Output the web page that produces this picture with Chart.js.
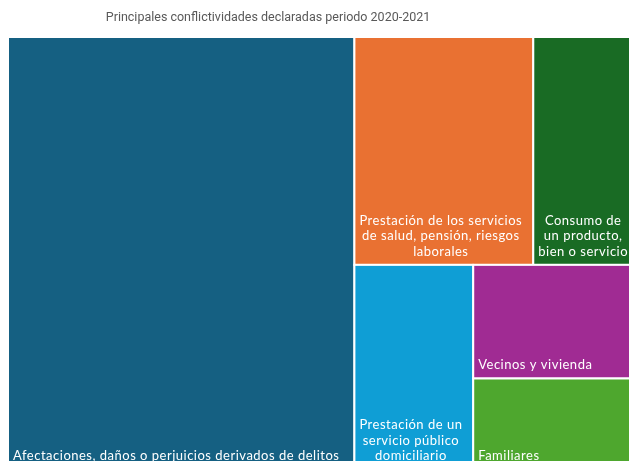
<!DOCTYPE html>
<html>
<head>
<meta charset="utf-8">
<script src="https://cdn.jsdelivr.net/npm/chart.js@4.4.0/dist/chart.umd.min.js"></script>
<style>
  html, body { margin: 0; padding: 0; background: #fff; overflow: hidden; }
  #wrap { position: relative; width: 630px; height: 469px; }
</style>
</head>
<body>
<div id="wrap"><canvas id="treeChart"></canvas></div>
<script>
const chartTitle = 'Principales conflictividades declaradas periodo 2020-2021';

// one entry per cell, each label already split into its lines
const categories = [
  ['Afectaciones, daños o perjuicios derivados de delitos'],
  ['Prestación de los servicios', 'de salud, pensión, riesgos', 'laborales'],
  ['Consumo de', 'un producto,', 'bien o servicio'],
  ['Prestación de un', 'servicio público', 'domiciliario'],
  ['Vecinos y vivienda'],
  ['Familiares']
];
const values = [1487, 405, 219, 241, 177, 141];
const colors = ['#156082', '#E97132', '#196B24', '#0F9ED5', '#A02B93', '#4EA72E'];

function sumOf(idx) {
  return idx.reduce((s, i) => s + values[i], 0);
}

// ordered binary split: cut the list where both halves are closest,
// cut the box across its longer side (measured in pixels)
function splitLayout(idx, box, sx, sy, out) {
  if (idx.length === 1) { out[idx[0]] = box; return; }
  const total = sumOf(idx);
  let best = 1, bestDiff = Infinity, acc = 0;
  for (let k = 1; k < idx.length; k++) {
    acc += values[idx[k - 1]];
    const diff = Math.abs(total - 2 * acc);
    if (diff < bestDiff) { bestDiff = diff; best = k; }
  }
  const a = idx.slice(0, best), b = idx.slice(best);
  const f = sumOf(a) / total;
  const pw = Math.abs(sx.getPixelForValue(box.x1) - sx.getPixelForValue(box.x0));
  const ph = Math.abs(sy.getPixelForValue(box.y1) - sy.getPixelForValue(box.y0));
  if (pw >= ph) {
    const xm = box.x0 + (box.x1 - box.x0) * f;
    splitLayout(a, { x0: box.x0, y0: box.y0, x1: xm, y1: box.y1 }, sx, sy, out);
    splitLayout(b, { x0: xm, y0: box.y0, x1: box.x1, y1: box.y1 }, sx, sy, out);
  } else {
    const ym = box.y0 + (box.y1 - box.y0) * f;
    splitLayout(a, { x0: box.x0, y0: box.y0, x1: box.x1, y1: ym }, sx, sy, out);
    splitLayout(b, { x0: box.x0, y0: ym, x1: box.x1, y1: box.y1 }, sx, sy, out);
  }
}

const treemapPlugin = {
  id: 'treemapCells',
  beforeDatasetsDraw(chart) {
    const ctx = chart.ctx;
    const sx = chart.scales.x, sy = chart.scales.y;
    const cells = [];
    splitLayout(values.map((v, i) => i), { x0: 0, y0: 0, x1: 1, y1: 1 }, sx, sy, cells);

    ctx.save();
    cells.forEach((c, i) => {
      const left = sx.getPixelForValue(c.x0), right = sx.getPixelForValue(c.x1);
      const top = sy.getPixelForValue(c.y0), bottom = sy.getPixelForValue(c.y1);
      ctx.fillStyle = colors[i];
      ctx.fillRect(left, top, right - left, bottom - top);
      ctx.strokeStyle = '#ffffff';
      ctx.lineWidth = 2;
      ctx.strokeRect(left, top, right - left, bottom - top);

      // label block sits bottom-left, lines centred inside the block
      const lines = categories[i];
      ctx.font = '13px Lato';
      ctx.letterSpacing = '0.5px';
      ctx.fillStyle = '#ffffff';
      ctx.textAlign = 'center';
      ctx.textBaseline = 'alphabetic';
      const blockW = Math.max(...lines.map(l => ctx.measureText(l).width));
      const cx = left + 5 + blockW / 2;
      const lineH = 15.5;
      lines.forEach((l, k) => {
        const y = bottom - 9 - (lines.length - 1 - k) * lineH;
        ctx.fillText(l, cx, y);
      });
    });

    // chart heading
    ctx.letterSpacing = '0px';
    ctx.font = '12.5px Roboto';
    ctx.fillStyle = '#595959';
    ctx.textAlign = 'center';
    ctx.textBaseline = 'middle';
    ctx.fillText(chartTitle, 268, 18);
    ctx.restore();
  }
};

new Chart(document.getElementById('treeChart'), {
  type: 'scatter',
  data: { datasets: [{ data: [], pointRadius: 0 }] },
  options: {
    responsive: true,
    maintainAspectRatio: false,
    animation: false,
    layout: { padding: { left: 8, top: 37, right: 0, bottom: 0 } },
    scales: {
      x: { display: false, min: 0, max: 1 },
      y: { display: false, min: 0, max: 1, reverse: true }
    },
    plugins: {
      legend: { display: false },
      tooltip: { enabled: false },
      title: { display: false }
    }
  },
  plugins: [treemapPlugin]
});
</script>
</body>
</html>
